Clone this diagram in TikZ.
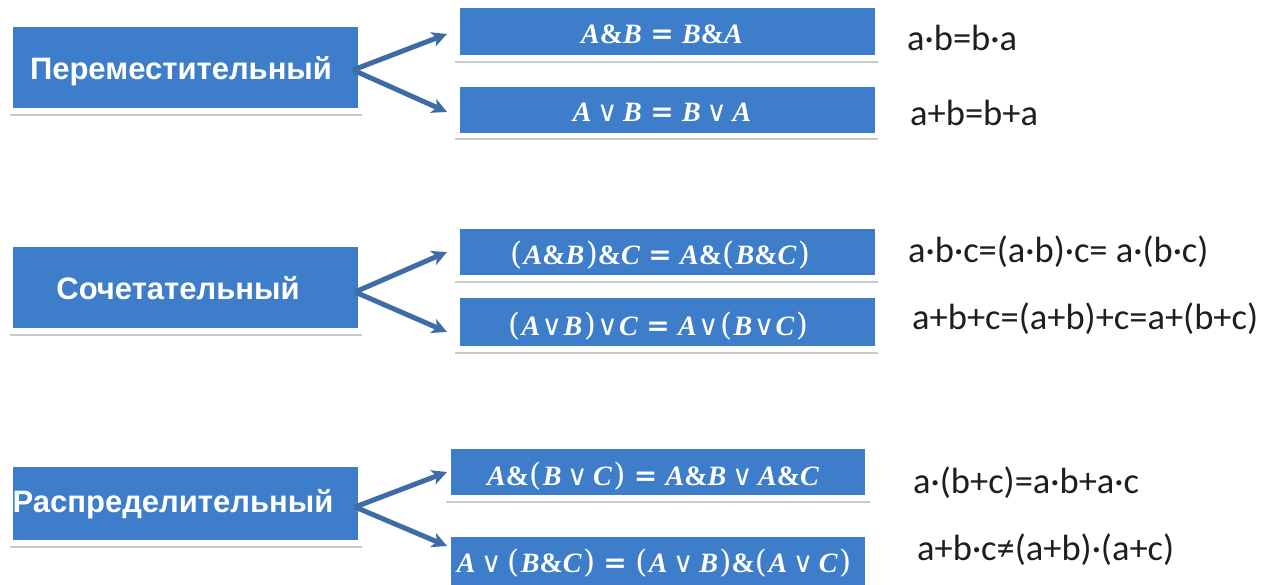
\documentclass[tikz,border=0pt]{standalone}
\usepackage{fontspec}
\setmainfont{Liberation Sans}
\newfontfamily\lawfont{Liberation Sans}
\newfontfamily\calcfont{Carlito}
\newfontfamily\formfont{Liberation Serif}
\newfontfamily\symfont{DejaVu Serif}
\usetikzlibrary{arrows.meta}

\definecolor{boxblue}{RGB}{61,125,201}
\definecolor{arrowblue}{RGB}{62,108,166}
\definecolor{shadowgrey}{RGB}{202,202,204}
\definecolor{calcgrey}{RGB}{30,30,30}

% pieces of the logical formulas
\newcommand{\fand}{{\upshape\&}}
\newcommand{\for}{\hspace{0.2em}{\symfont\mdseries\upshape ∨}\hspace{0.2em}}
\newcommand{\fortight}{\hspace{0.05em}{\symfont\mdseries\upshape ∨}\hspace{0.05em}}
\newcommand{\feq}{\hspace{0.3em}{\symfont\bfseries\upshape =}\hspace{0.3em}}
\newcommand{\fl}{{\symfont\mdseries\upshape\fontsize{31}{32}\selectfont(}\hspace{1.5pt}}
\newcommand{\fr}{\hspace{1.5pt}{\symfont\mdseries\upshape\fontsize{31}{32}\selectfont)}}

\tikzset{
  lawbox/.style={fill=boxblue, draw=none, inner sep=0pt, anchor=center},
  lawtext/.style={text=white, inner sep=0pt, anchor=base,
    font=\lawfont\bfseries\fontsize{31}{36}\selectfont},
  formula/.style={text=white, inner sep=0pt, anchor=base,
    font=\formfont\bfseries\itshape\fontsize{28}{32}\selectfont},
  calc/.style={text=calcgrey, inner sep=0pt, anchor=base west,
    font=\calcfont\fontsize{36.5}{42}\selectfont},
  branch/.style={draw=arrowblue, line width=5pt,
    -{Stealth[length=15pt,width=15pt,inset=4pt]}},
  underline/.style={draw=shadowgrey, line width=2.5pt}
}

\begin{document}
\begin{tikzpicture}[x=1pt,y=-1pt]
\useasboundingbox (0,0) rectangle (1282,585);

% ---- law name boxes (left column)
\node[lawbox, minimum width=345pt, minimum height=81pt] (L1) at (185.5,67.5) {};
\node[lawbox, minimum width=345pt, minimum height=81pt] (L2) at (185.5,287.5) {};
\node[lawbox, minimum width=345pt, minimum height=73pt] (L3) at (185.5,503.5) {};
\draw[underline] (10,115) -- (362,115);
\draw[underline] (10,335) -- (362,335);
\draw[underline] (10,547) -- (362,547);

\node[lawtext] (T1) at (181,80) {Переместительный};
\node[lawtext] (T2) at (178,300) {Сочетательный};
\node[lawtext] (T3) at (173,512) {Распределительный};

% ---- formula boxes (middle column)
\node[lawbox, minimum width=415pt, minimum height=47pt] (R1a) at (667.5,31.5) {};
\node[lawbox, minimum width=415pt, minimum height=46pt] (R1b) at (667.5,110) {};
\node[lawbox, minimum width=415pt, minimum height=46pt] (R2a) at (667.5,252) {};
\node[lawbox, minimum width=415pt, minimum height=48pt] (R2b) at (667.5,322) {};
\node[lawbox, minimum width=414pt, minimum height=46pt] (R3a) at (658,472) {};
\node[lawbox, minimum width=414pt, minimum height=48pt] (R3b) at (658,561) {};
\draw[underline] (455,62) -- (878,62);
\draw[underline] (455,139) -- (878,139);
\draw[underline] (455,282) -- (878,282);
\draw[underline] (455,353) -- (878,353);
\draw[underline] (446,502) -- (870,502);

\node[formula] (F1a) at (662,44)  {A\fand B\feq B\fand A};
\node[formula] (F1b) at (662,122) {A\for B\feq B\for A};
\node[formula] (F2a) at (660,265) {\fl A\fand B\fr\fand C\feq A\fand\fl B\fand C\fr};
\node[formula] (F2b) at (658,335) {\fl A\fortight B\fr\fortight C\feq A\fortight\fl B\fortight C\fr};
\node[formula] (F3a) at (653,485) {A\fand\fl B\for C\fr\feq A\fand B\for A\fand C};
\node[formula] (F3b) at (654,572) {A\for\fl B\fand C\fr\feq\fl A\for B\fr\fand\fl A\for C\fr};

% ---- arithmetic analogues (right column)
\node[calc] (C1a) at (907,51)  {a·b=b·a};
\node[calc] (C1b) at (910,126) {a+b=b+a};
\node[calc] (C2a) at (908,263) {a·b·c=(a·b)·c= a·(b·c)};
\node[calc] (C2b) at (912,330) {a+b+c=(a+b)+c=a+(b+c)};
\node[calc] (C3a) at (913,493) {a·(b+c)=a·b+a·c};
\node[calc] (C3b) at (917,560) {a+b·c≠(a+b)·(a+c)};

% ---- branching arrows
\coordinate (s1) at (353,70);
\coordinate (s2) at (355,292);
\coordinate (s3) at (355,507);
\coordinate (t1a) at (447,34);
\coordinate (t1b) at (447,112);
\coordinate (t2a) at (447,252);
\coordinate (t2b) at (447,332);
\coordinate (t3a) at (447,472);
\coordinate (t3b) at (447,546);
\draw[branch] (s1) -- (t1a);
\draw[branch] (s1) -- (t1b);
\draw[branch] (s2) -- (t2a);
\draw[branch] (s2) -- (t2b);
\draw[branch] (s3) -- (t3a);
\draw[branch] (s3) -- (t3b);
\end{tikzpicture}
\end{document}
